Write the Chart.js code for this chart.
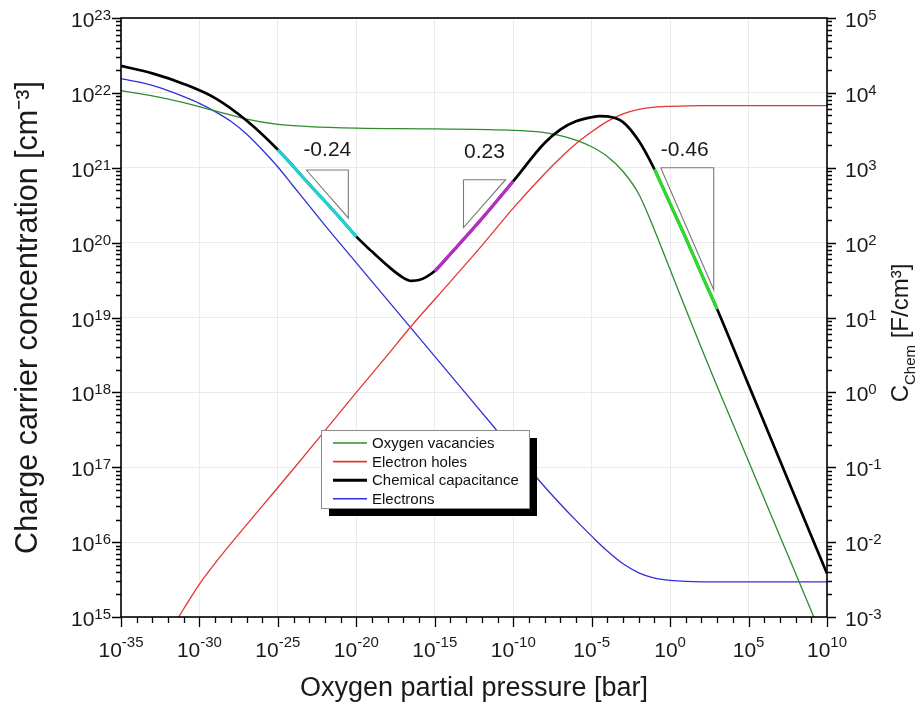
<!DOCTYPE html>
<html>
<head>
<meta charset="utf-8">
<script src="https://cdn.jsdelivr.net/npm/chart.js@4/dist/chart.umd.min.js"></script>
<style>
  html, body { margin: 0; padding: 0; background: #fff; }
  #wrap { width: 917px; height: 713px; position: relative; }
</style>
</head>
<body>
<div id="wrap"><canvas id="c"></canvas></div>
<script>
// ---------- DATA (log10 values) ----------
// Tick decades (exponents) for each axis
const xTickExps = [-35, -30, -25, -20, -15, -10, -5, 0, 5, 10];
const yTickExps = [15, 16, 17, 18, 19, 20, 21, 22, 23];
const y2TickExps = [-3, -2, -1, 0, 1, 2, 3, 4, 5];

// Oxygen vacancies (log10 cm^-3) vs log10 pO2, left axis
const vacLogP = [-35, -33, -31, -29, -27, -25, -23, -20, -15, -10, -8, -7, -6, -5, -4, -3, -2, -1, 0, 1, 2, 3, 5, 7, 9.16, 10];
const vacLogC = [22.03, 21.96, 21.87, 21.76, 21.65, 21.58, 21.55, 21.53, 21.52, 21.50, 21.47, 21.43, 21.37, 21.28, 21.15, 20.95, 20.65, 20.17, 19.64, 19.11, 18.59, 18.08, 17.08, 16.08, 15.00, 14.58];

// Electron holes (log10 cm^-3), left axis
const holeLogP = [-32, -31, -30, -29, -28, -26, -24, -22, -20, -18, -16.56, -14, -12, -10, -8, -7, -6, -5, -4, -3, -2, -1, 0, 2, 10];
const holeLogC = [14.76, 15.11, 15.44, 15.72, 15.98, 16.48, 16.98, 17.49, 18.00, 18.50, 18.87, 19.48, 19.96, 20.46, 20.92, 21.13, 21.32, 21.48, 21.62, 21.72, 21.78, 21.81, 21.82, 21.83, 21.83];

// Electrons (log10 cm^-3), left axis
const elecLogP = [-35, -34, -33, -32, -31, -30, -29, -28, -27, -26, -25, -24, -23, -22, -20, -15, -10, -8, -7, -6, -5, -4, -3, -2, -1, 0, 1, 2, 10];
const elecLogC = [22.19, 22.15, 22.10, 22.03, 21.95, 21.86, 21.75, 21.62, 21.45, 21.24, 21.01, 20.75, 20.49, 20.23, 19.73, 18.48, 17.23, 16.74, 16.51, 16.29, 16.08, 15.88, 15.71, 15.59, 15.52, 15.49, 15.475, 15.47, 15.47];

// Chemical capacitance (log10 F/cm^3), right axis
const capLogP = [-35, -33, -31, -29, -27, -25, -23, -21, -20, -19, -18, -17, -16.5, -16, -15, -14, -12, -10, -8, -7, -6, -5, -4.5, -4, -3, -2, -1, 0, 1, 2, 3, 5, 7, 10];
const capLogC = [4.36, 4.26, 4.12, 3.93, 3.63, 3.24, 2.78, 2.32, 2.08, 1.88, 1.69, 1.53, 1.49, 1.50, 1.62, 1.85, 2.32, 2.82, 3.33, 3.51, 3.62, 3.675, 3.69, 3.685, 3.61, 3.36, 2.98, 2.52, 2.06, 1.58, 1.11, 0.10, -0.91, -2.42];

// Fitted slope segments on the capacitance curve (log10 pO2 ranges)
const fitLabels = ['-0.24', '0.23', '-0.46'];
const fitRanges = [[-25, -20], [-15, -10], [-1, 3]];
const fitColors = ['#1fd3d3', '#b52ec4', '#2bdc2b'];

// Slope triangles (log10 pO2, log10 concentration on the left axis)
const triLogP = [[-23.19, -20.51, -20.51, -23.19], [-13.17, -10.49, -13.17, -13.17], [-0.60, 2.78, 2.78, -0.60]];
const triLogC = [[20.97, 20.97, 20.33, 20.97], [20.84, 20.84, 20.20, 20.84], [21.00, 21.00, 19.37, 21.00]];
// Slope label anchors (log10 pO2, log10 concentration)
const slopeLabelLogP = [-21.85, -11.83, 0.93];
const slopeLabelLogC = [21.24, 21.21, 21.24];

// ---------- helpers ----------
const toPts = (xs, ys) => xs.map((e, i) => ({x: Math.pow(10, e), y: Math.pow(10, ys[i])}));
const FONT = '"Liberation Sans", Arial, sans-serif';
const TXT = '#1a1a1a';
Chart.defaults.font.family = FONT;
Chart.defaults.color = TXT;

const datasets = [];
fitRanges.forEach((r, k) => {
  const xs = [], ys = [];
  capLogP.forEach((e, i) => { if (e >= r[0] && e <= r[1]) { xs.push(e); ys.push(capLogC[i]); } });
  datasets.push({label: 'fit ' + fitLabels[k], data: toPts(xs, ys), yAxisID: 'y2', borderColor: fitColors[k],
    borderWidth: 3.2, pointRadius: 0, cubicInterpolationMode: 'monotone', order: 0});
});
datasets.push({label: 'Chemical capacitance', data: toPts(capLogP, capLogC), yAxisID: 'y2', borderColor: '#000',
  borderWidth: 2.7, pointRadius: 0, cubicInterpolationMode: 'monotone', order: 1});
datasets.push({label: 'Oxygen vacancies', data: toPts(vacLogP, vacLogC), yAxisID: 'y', borderColor: '#2e8b2e',
  borderWidth: 1.3, pointRadius: 0, cubicInterpolationMode: 'monotone', order: 2});
datasets.push({label: 'Electron holes', data: toPts(holeLogP, holeLogC), yAxisID: 'y', borderColor: '#e53535',
  borderWidth: 1.3, pointRadius: 0, cubicInterpolationMode: 'monotone', order: 2});
datasets.push({label: 'Electrons', data: toPts(elecLogP, elecLogC), yAxisID: 'y', borderColor: '#3030d8',
  borderWidth: 1.3, pointRadius: 0, cubicInterpolationMode: 'monotone', order: 2});
triLogP.forEach((xs, k) => {
  datasets.push({label: 'triangle ' + (k + 1), data: toPts(xs, triLogC[k]), yAxisID: 'y', borderColor: '#7a7a7a',
    borderWidth: 1.1, pointRadius: 0, tension: 0, order: 3});
});

const legendOrder = ['Oxygen vacancies', 'Electron holes', 'Chemical capacitance', 'Electrons'];

function drawPow(ctx, exp, x, yBase, yExp, align) {
  ctx.font = '21px ' + FONT;
  const wb = ctx.measureText('10').width;
  ctx.font = '15px ' + FONT;
  const es = String(exp);
  const we = ctx.measureText(es).width;
  let x0 = x;
  if (align === 'right') x0 = x - wb - we;
  else if (align === 'center') x0 = x - (wb + we) / 2;
  ctx.font = '21px ' + FONT;
  ctx.fillText('10', x0, yBase);
  ctx.font = '15px ' + FONT;
  ctx.fillText(es, x0 + wb, yExp);
}

const decorPlugin = {
  id: 'decor',
  afterDatasetsDraw(chart) {
    const {ctx, scales} = chart;
    const sx = scales.x, sy = scales.y;
    ctx.save();
    // slope labels
    ctx.fillStyle = TXT;
    ctx.font = '21px ' + FONT;
    ctx.textAlign = 'center';
    ctx.textBaseline = 'middle';
    fitLabels.forEach((t, i) => {
      ctx.fillText(t, sx.getPixelForValue(Math.pow(10, slopeLabelLogP[i])), sy.getPixelForValue(Math.pow(10, slopeLabelLogC[i])));
    });
    // legend box with shadow
    const bx = 321, by = 430, bw = 208, bh = 78;
    ctx.fillStyle = '#000';
    ctx.fillRect(bx + 8, by + 8, bw, bh);
    ctx.fillStyle = '#fff';
    ctx.fillRect(bx, by, bw, bh);
    ctx.strokeStyle = '#8a8a8a';
    ctx.lineWidth = 1;
    ctx.strokeRect(bx + 0.5, by + 0.5, bw, bh);
    ctx.font = '15px ' + FONT;
    ctx.textAlign = 'left';
    ctx.textBaseline = 'middle';
    legendOrder.forEach((name, i) => {
      const ds = chart.data.datasets.find(d => d.label === name);
      const yy = by + 13 + i * 18.6;
      ctx.strokeStyle = ds.borderColor;
      ctx.lineWidth = name === 'Chemical capacitance' ? 3 : 1.6;
      ctx.beginPath(); ctx.moveTo(bx + 12, yy); ctx.lineTo(bx + 46, yy); ctx.stroke();
      ctx.fillStyle = '#111';
      ctx.fillText(name, bx + 51, yy + 1);
    });
    ctx.restore();
  },
  afterDraw(chart) {
    const {ctx, chartArea: a, scales} = chart;
    const sx = scales.x, sy = scales.y, sy2 = scales.y2;
    ctx.save();
    ctx.strokeStyle = '#000';
    ctx.lineWidth = 1.6;
    ctx.strokeRect(a.left, a.top, a.right - a.left, a.bottom - a.top);
    ctx.lineWidth = 1.3;
    ctx.beginPath();
    for (let e = xTickExps[0]; e <= xTickExps[xTickExps.length - 1]; e++) {
      const px = Math.round(sx.getPixelForValue(Math.pow(10, e))) + 0.5;
      const len = xTickExps.includes(e) ? 10 : 6;
      ctx.moveTo(px, a.bottom); ctx.lineTo(px, a.bottom + len);
    }
    const drawY = (scale, exps, side) => {
      for (let e = exps[0]; e <= exps[exps.length - 1]; e++) {
        for (let m = 1; m <= 9; m++) {
          if (e === exps[exps.length - 1] && m > 1) break;
          const py = Math.round(scale.getPixelForValue(m * Math.pow(10, e))) + 0.5;
          const len = m === 1 ? 9 : 5;
          if (side === 'left') { ctx.moveTo(a.left, py); ctx.lineTo(a.left - len, py); }
          else { ctx.moveTo(a.right, py); ctx.lineTo(a.right + len, py); }
        }
      }
    };
    drawY(sy, yTickExps, 'left');
    drawY(sy2, y2TickExps, 'right');
    ctx.stroke();

    // tick labels with superscript exponents
    ctx.fillStyle = TXT;
    ctx.textBaseline = 'alphabetic';
    ctx.textAlign = 'left';
    xTickExps.forEach(e => {
      const px = sx.getPixelForValue(Math.pow(10, e));
      drawPow(ctx, e, px, a.bottom + 40, a.bottom + 30, 'center');
    });
    yTickExps.forEach(e => {
      const py = sy.getPixelForValue(Math.pow(10, e));
      drawPow(ctx, e, a.left - 10, py + 9, py + 2, 'right');
    });
    y2TickExps.forEach(e => {
      const py = sy2.getPixelForValue(Math.pow(10, e));
      drawPow(ctx, e, a.right + 18, py + 9, py + 2, 'left');
    });

    // right axis title: C_Chem [F/cm³]
    ctx.translate(908, 333);
    ctx.rotate(-Math.PI / 2);
    ctx.font = '24px ' + FONT;
    const wC = ctx.measureText('C').width;
    const rest = ' [F/cm\u00B3]';
    const wR = ctx.measureText(rest).width;
    ctx.font = '15px ' + FONT;
    const wS = ctx.measureText('Chem').width;
    const x0 = -(wC + wS + wR) / 2;
    ctx.font = '24px ' + FONT;
    ctx.fillText('C', x0, 0);
    ctx.font = '15px ' + FONT;
    ctx.fillText('Chem', x0 + wC, 7);
    ctx.font = '24px ' + FONT;
    ctx.fillText(rest, x0 + wC + wS, 0);
    ctx.restore();
  }
};

const decadeTicks = exps => scale => { scale.ticks = exps.map(e => ({value: Math.pow(10, e)})); };

new Chart(document.getElementById('c'), {
  type: 'line',
  data: {datasets},
  options: {
    responsive: true,
    maintainAspectRatio: false,
    animation: false,
    layout: {padding: {top: 18, left: 0, right: 0, bottom: 0}},
    plugins: {legend: {display: false}, tooltip: {enabled: false}},
    scales: {
      x: {
        type: 'logarithmic', position: 'bottom', min: Math.pow(10, xTickExps[0]), max: Math.pow(10, xTickExps[xTickExps.length - 1]),
        afterBuildTicks: decadeTicks(xTickExps),
        afterFit: s => { s.height = 96; },
        grid: {color: '#ebebeb', lineWidth: 1, drawTicks: false},
        border: {display: false},
        ticks: {display: false},
        title: {display: true, text: 'Oxygen partial pressure [bar]', font: {size: 27}, color: TXT, padding: {top: 0, bottom: 8}}
      },
      y: {
        type: 'logarithmic', position: 'left', min: Math.pow(10, yTickExps[0]), max: Math.pow(10, yTickExps[yTickExps.length - 1]),
        afterBuildTicks: decadeTicks(yTickExps),
        afterFit: s => { s.width = 121; },
        grid: {color: '#ebebeb', lineWidth: 1, drawTicks: false},
        border: {display: false},
        ticks: {display: false},
        title: {display: true, text: 'Charge carrier concentration [cm\u207B\u00B3]', font: {size: 30.5}, color: TXT, padding: {top: 10, bottom: 0}}
      },
      y2: {
        type: 'logarithmic', position: 'right', min: Math.pow(10, y2TickExps[0]), max: Math.pow(10, y2TickExps[y2TickExps.length - 1]),
        afterBuildTicks: decadeTicks(y2TickExps),
        afterFit: s => { s.width = 90; },
        grid: {display: false, drawTicks: false},
        border: {display: false},
        ticks: {display: false},
        title: {display: false}
      }
    }
  },
  plugins: [decorPlugin]
});
</script>
</body>
</html>
